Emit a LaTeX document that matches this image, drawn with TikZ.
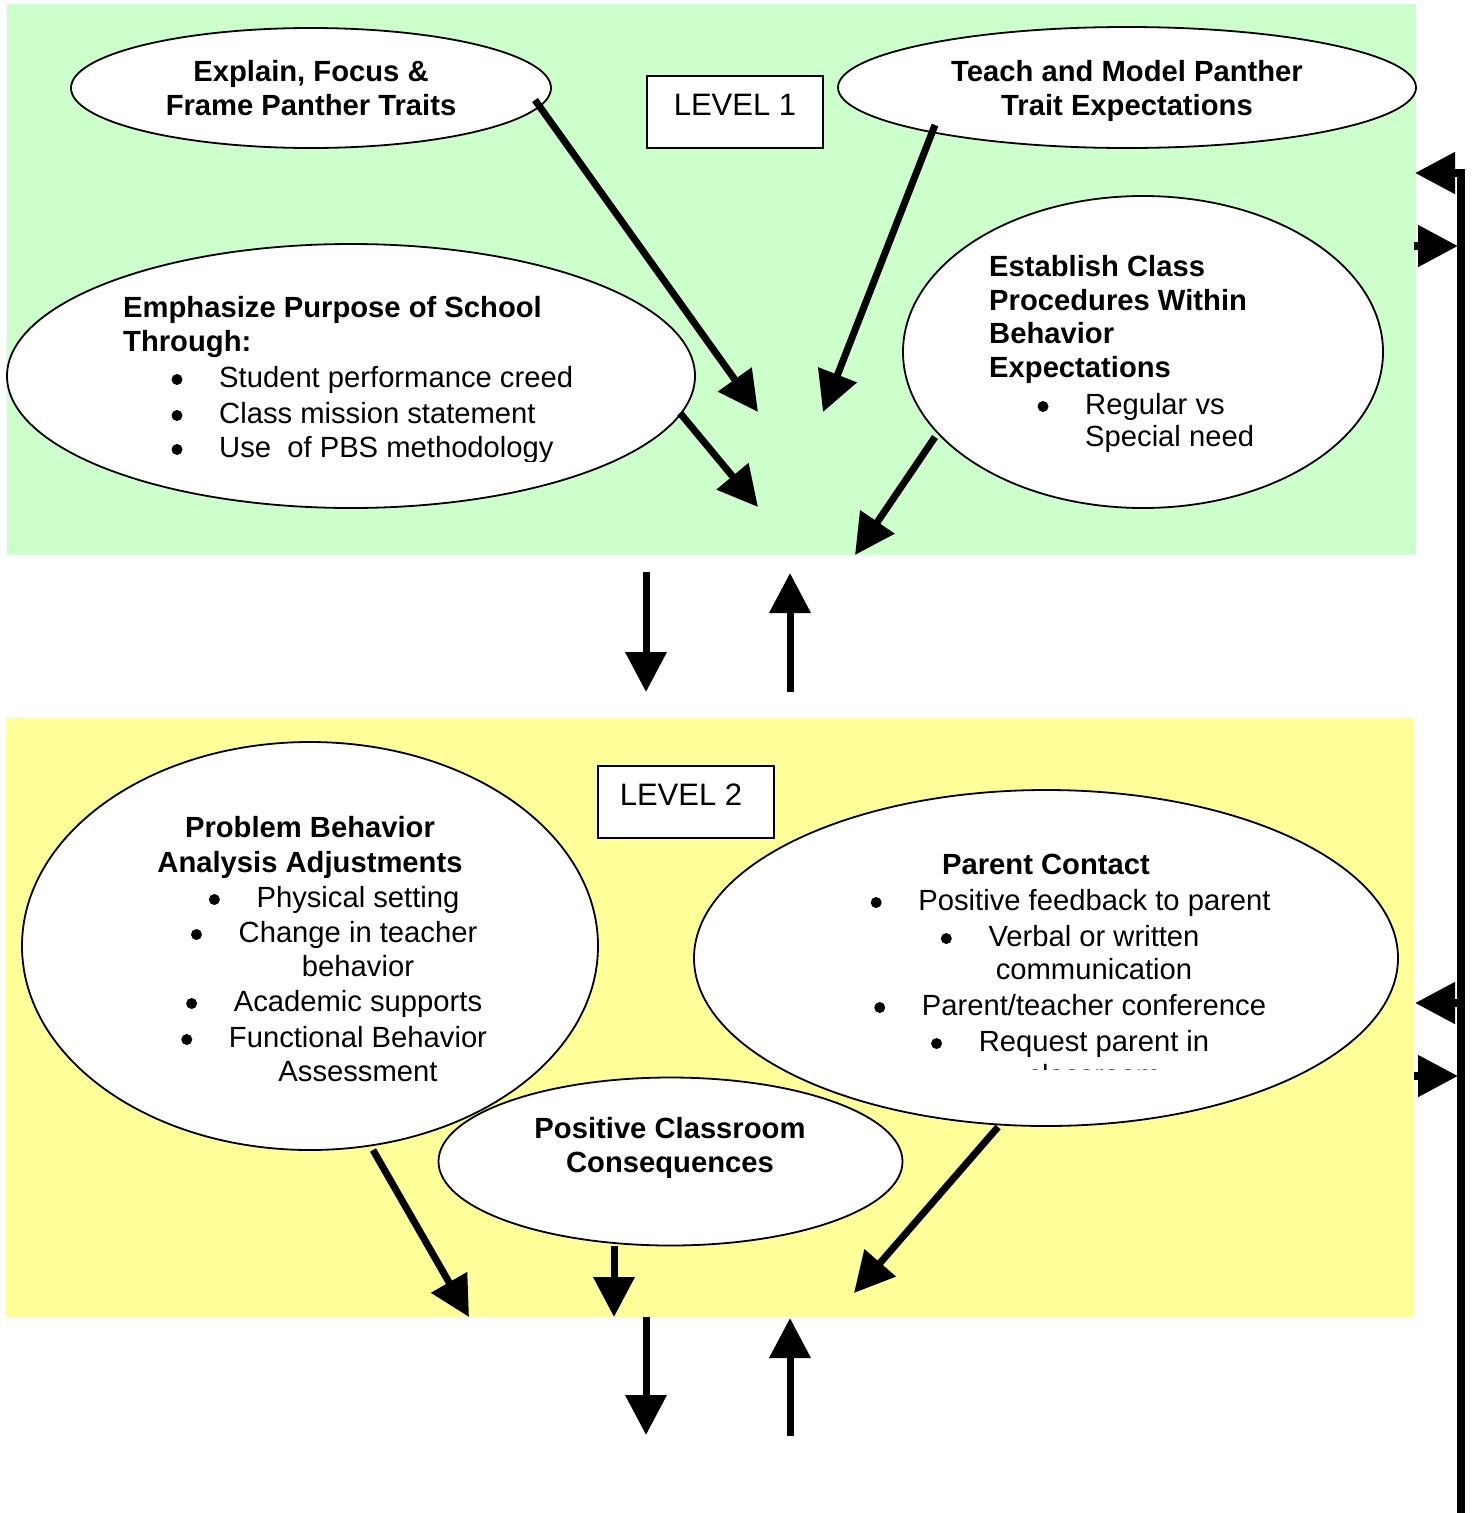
\documentclass[tikz,border=0pt]{standalone}
\usepackage{fontspec}
\setmainfont{Liberation Sans}
\usetikzlibrary{shapes.geometric,arrows.meta,calc}
\definecolor{lvlgreen}{HTML}{CCFFCC}
\definecolor{lvlyellow}{HTML}{FFFF99}
% bullet line, text centred at x
\newcommand\bltc[4]{%
  \node[tx] (#1) at (#2,#3) {#4};
  \node[bul] (#1b) at ([xshift=-42pt,yshift=7.5pt]#1.base west) {};}
% bullet line, text left-aligned at x
\newcommand\bltl[4]{%
  \node[txl] (#1) at (#2,#3) {#4};
  \node[bul] (#1b) at ([xshift=-42pt,yshift=7.5pt]#1.base west) {};}
\begin{document}
\begin{tikzpicture}[x=1pt,y=-1pt,
  bubble/.style={ellipse, draw, fill=white, line width=1.8pt, inner sep=0pt},
  hd/.style={font=\fontsize{29.2}{34}\selectfont\bfseries, inner sep=0pt, anchor=base},
  hdl/.style={hd, anchor=base west},
  tx/.style={font=\fontsize{29.2}{34}\selectfont, inner sep=0pt, anchor=base},
  txl/.style={tx, anchor=base west},
  bul/.style={circle, fill=black, inner sep=0pt, minimum size=11pt},
  arr/.style={line width=7pt, -{Triangle[width=40pt,length=40pt]}},
  sidearr/.style={line width=8pt, -{Triangle[width=40pt,length=40pt]}},
  lvl/.style={draw, fill=white, line width=2pt, minimum width=176pt, minimum height=72pt,
              inner sep=0pt, font=\fontsize{31}{36}\selectfont, text depth=15pt},
]
\useasboundingbox (0,0) rectangle (1475,1513);
% level backgrounds
\fill[lvlgreen] (7,4) rectangle (1416,555);
\fill[lvlyellow] (6,718) rectangle (1414,1317);

% ellipses
\node[bubble, minimum width=480pt, minimum height=120pt] (explain) at (311,88) {};
\node[bubble, minimum width=578pt, minimum height=121pt] (teach) at (1127,87.5) {};
\node[bubble, minimum width=688pt, minimum height=264pt] (emph) at (351,376) {};
\node[bubble, minimum width=480pt, minimum height=312pt] (estab) at (1143,352) {};
\node[bubble, minimum width=576pt, minimum height=408pt] (prob) at (310,946) {};
\node[bubble, minimum width=704pt, minimum height=336pt] (parent) at (1046,958) {};
\node[bubble, minimum width=464pt, minimum height=168pt] (posit) at (670.5,1161.5) {};

% level boxes
\node[lvl] (lvl1) at (735,112) {LEVEL 1};
\node[lvl] (lvl2) at (686,802) {LEVEL 2\hspace*{10pt}};

% Explain
\node[hd] (ex1) at (311,81) {Explain, Focus \&};
\node[hd] (ex2) at (311,115) {Frame Panther Traits};
% Teach
\node[hd] (te1) at (1127,81) {Teach and Model Panther};
\node[hd] (te2) at (1127,115) {Trait Expectations};
% Emphasize
\node[hdl] (em1) at (123,317) {Emphasize Purpose of School};
\node[hdl] (em2) at (123,351) {Through:};
\bltl{em3}{219}{387}{Student performance creed}
\bltl{em4}{219}{423}{Class mission statement}
\begin{scope}
  \clip (0,0) rectangle (1475,461);
  \bltl{em5}{219}{457}{Use\ \ of PBS methodology}
\end{scope}
% Establish
\node[hdl] (es1) at (989,276) {Establish Class};
\node[hdl] (es2) at (989,310) {Procedures Within};
\node[hdl] (es3) at (989,343) {Behavior};
\node[hdl] (es4) at (989,377) {Expectations};
\bltl{es5}{1085}{414}{Regular vs}
\node[txl] (es6) at (1085,446) {Special need};
% Problem behaviour
\node[hd] (pb1) at (310,837) {Problem Behavior};
\node[hd] (pb2) at (310,872) {Analysis Adjustments};
\bltc{pb3}{358}{907}{Physical setting}
\bltc{pb4}{358}{942}{Change in teacher}
\node[tx] (pb5) at (358,976) {behavior};
\bltc{pb6}{358}{1011}{Academic supports}
\bltc{pb7}{358}{1047}{Functional Behavior}
\node[tx] (pb8) at (358,1081) {Assessment};
% Parent contact
\node[hd] (pc1) at (1046,874) {Parent Contact};
\bltc{pc2}{1094.5}{910}{Positive feedback to parent}
\bltc{pc3}{1094}{946}{Verbal or written}
\node[tx] (pc4) at (1094,979) {communication};
\bltc{pc5}{1094}{1015}{Parent/teacher conference}
\bltc{pc6}{1094}{1051}{Request parent in}
\begin{scope}
  \clip (0,0) rectangle (1475,1069);
  \node[tx] (pc7) at (1094,1085) {classroom};
\end{scope}
% Positive consequences
\node[hd] (po1) at (670,1138) {Positive Classroom};
\node[hd] (po2) at (670,1172) {Consequences};

% arrow end points
\coordinate (a1e) at (758,412);
\coordinate (a2e) at (823,412);
\coordinate (a3e) at (758,507);
\coordinate (a4e) at (855,555);
\coordinate (a5s) at (646,572);
\coordinate (a5e) at (646,692);
\coordinate (a6s) at (790,692);
\coordinate (a6e) at (790,573);
\coordinate (a7e) at (469,1317);
\coordinate (a8e) at (614,1317);
\coordinate (a9e) at (854,1293);
\coordinate (a10s) at (646,1317);
\coordinate (a10e) at (646,1435);
\coordinate (a11s) at (790,1436);
\coordinate (a11e) at (790,1318);

% level 1 arrows
\draw[arr] ($(explain.center)+(224,12)$) -- (a1e);
\draw[arr] ($(teach.center)+(-192,37.5)$) -- (a2e);
\draw[arr] ($(emph.center)+(329,37)$) -- (a3e);
\draw[arr] ($(estab.center)+(-208,85)$) -- (a4e);
% between levels
\draw[arr] (a5s) -- (a5e);
\draw[arr] (a6s) -- (a6e);
% level 2 arrows
\draw[arr] ($(prob.center)+(63,204)$) -- (a7e);
\draw[arr] ($(posit.center)+(-56.5,84.5)$) -- (a8e);
\draw[arr] ($(parent.center)+(-48,169)$) -- (a9e);
\draw[arr] (a10s) -- (a10e);
\draw[arr] (a11s) -- (a11e);

% right-hand feedback line
\coordinate (rtop) at (1461,169);
\coordinate (rbot) at (1461,1513);
\draw[line width=8pt] (rtop) -- (rbot);
\coordinate (r1s) at (1465,173);
\coordinate (r1e) at (1415,173);
\coordinate (r2s) at (1414,246);
\coordinate (r2e) at (1458,246);
\coordinate (r3s) at (1461,1003);
\coordinate (r3e) at (1415,1003);
\coordinate (r4s) at (1414,1076);
\coordinate (r4e) at (1458,1076);
\draw[sidearr] (r1s) -- (r1e);
\draw[sidearr] (r2s) -- (r2e);
\draw[sidearr] (r3s) -- (r3e);
\draw[sidearr] (r4s) -- (r4e);
\end{tikzpicture}
\end{document}
